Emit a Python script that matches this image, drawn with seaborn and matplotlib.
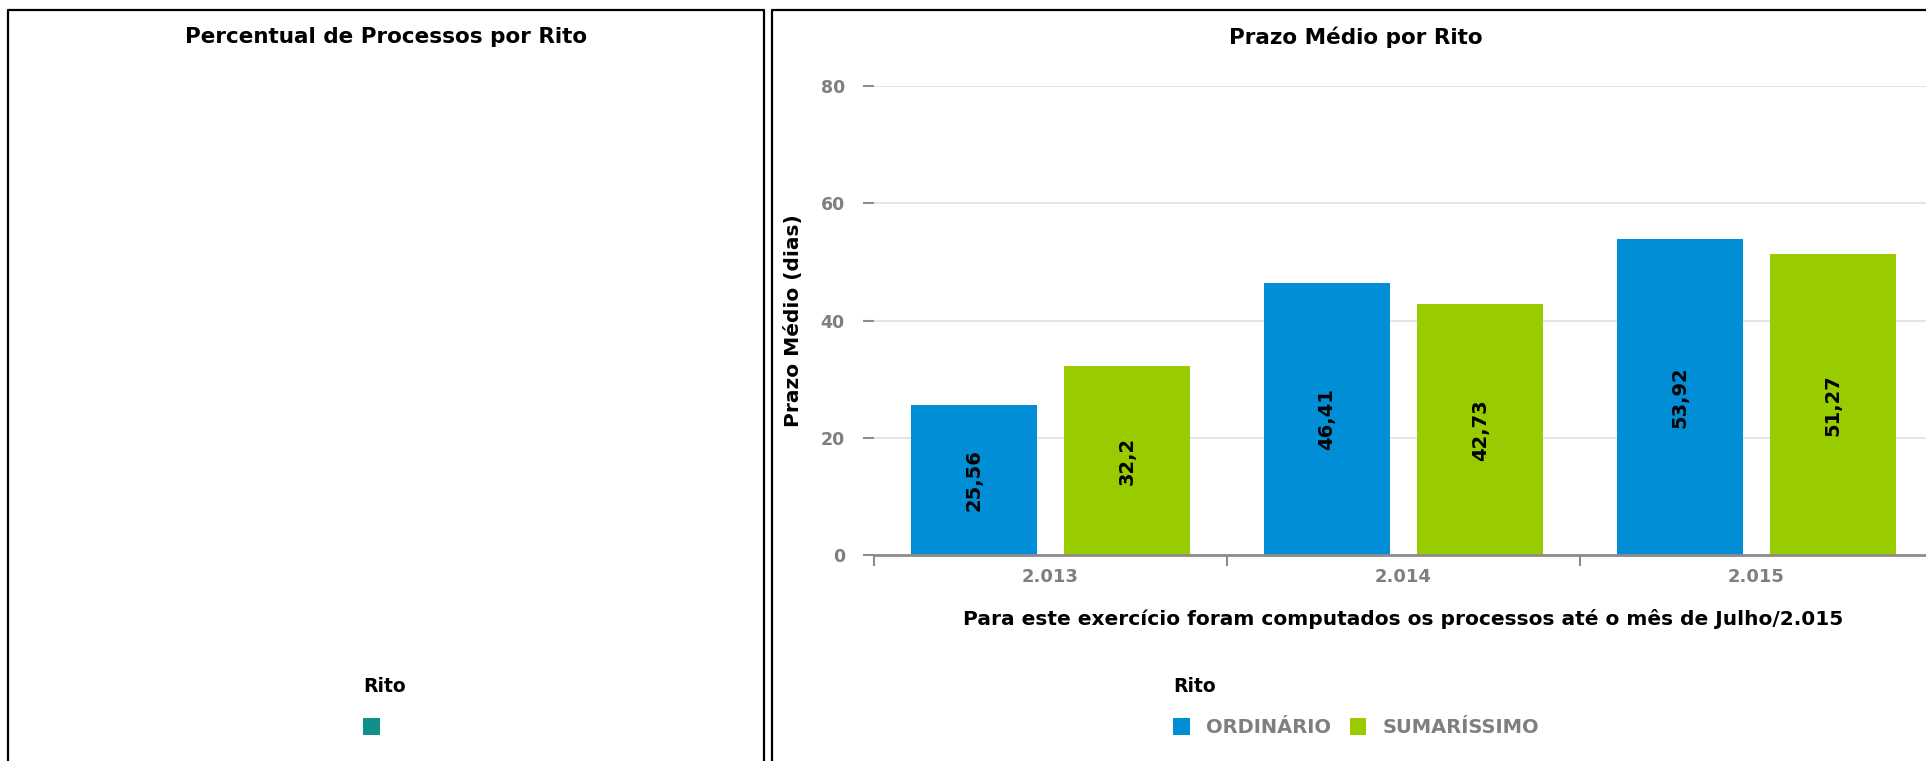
import matplotlib
matplotlib.use('Agg')
import matplotlib.pyplot as plt
import seaborn as sns
import pandas as pd
from matplotlib.lines import Line2D
from matplotlib.patches import Patch

# ---- data ----
anos = ['2.013', '2.014', '2.015']
ritos = ['ORDINÁRIO', 'SUMARÍSSIMO']
ordinario = [25.56, 46.41, 53.92]
sumarissimo = [32.2, 42.73, 51.27]
y_ticks = [0, 20, 40, 60, 80]
cores = ['#008ed6', '#99cc00']
cor_pizza = '#138f8b'

df = pd.DataFrame({
    'Ano': anos * 2,
    'Rito': [ritos[0]] * len(anos) + [ritos[1]] * len(anos),
    'Prazo': ordinario + sumarissimo,
})

sns.set_theme(style='white')
plt.rcParams['font.family'] = ['DejaVu Sans']
plt.rcParams['font.weight'] = 'bold'

W, H = 1926, 761
fig = plt.figure(figsize=(W / 100, H / 100), dpi=100)
fig.patch.set_facecolor('white')


def fx(px):
    return px / W


def fy(py):
    return 1 - py / H


GRAY = '#7f7f7f'
AXGRAY = '#8c8c8c'

ax = fig.add_axes([fx(874), fy(555), fx(1933) - fx(874), fy(86) - fy(555)])
sns.barplot(data=df, x='Ano', y='Prazo', hue='Rito', palette=cores,
            width=0.87, gap=0.18, saturation=1, edgecolor='none', linewidth=0,
            ax=ax, legend=False)

for cont in ax.containers:
    vals = [b.get_height() for b in cont]
    ax.bar_label(cont, labels=[f'{v:g}'.replace('.', ',') for v in vals],
                 label_type='center', rotation=90, fontsize=14,
                 fontweight='bold', color='black')

ax.set_xlim(-0.5, 2.5)
ax.set_ylim(0, 80)
ax.set_yticks(y_ticks)
ax.set_axisbelow(True)
ax.yaxis.grid(True, color='#e3e3e3', lw=1.3)
ax.xaxis.grid(False)
for s in ['left', 'top', 'right']:
    ax.spines[s].set_visible(False)
ax.spines['bottom'].set_color(AXGRAY)
ax.spines['bottom'].set_linewidth(2)

ax.tick_params(axis='y', left=True, length=8, width=1.5, color=AXGRAY,
               labelcolor=GRAY, labelsize=12.5, pad=13)
ax.tick_params(axis='x', which='major', bottom=True, length=0, pad=9,
               labelcolor=GRAY, labelsize=13)
ax.set_xticks([-0.5, 0.5, 1.5, 2.5], minor=True)
ax.tick_params(axis='x', which='minor', bottom=True, length=8, width=1.5,
               color=AXGRAY, direction='out')

ax.set_xlabel('Para este exercício foram computados os processos até o mês de Julho/2.015',
              fontsize=14.5, fontweight='bold', color='black', labelpad=17)
ax.set_ylabel('Prazo Médio (dias)', fontsize=14.5, fontweight='bold',
              color='black', labelpad=13)

# titles
fig.text(fx(386), fy(37), 'Percentual de Processos por Rito', ha='center',
         va='center', fontsize=15.5, fontweight='bold', color='black')
fig.text(fx(1356), fy(37), 'Prazo Médio por Rito', ha='center',
         va='center', fontsize=15.5, fontweight='bold', color='black')

# panel borders
lw = 1.6
fig.add_artist(Line2D([fx(8), fx(8), fx(764), fx(764)],
                      [fy(770), fy(10), fy(10), fy(770)],
                      transform=fig.transFigure, color='black', lw=lw))
fig.add_artist(Line2D([fx(772), fx(772), fx(1940)],
                      [fy(770), fy(10), fy(10)],
                      transform=fig.transFigure, color='black', lw=lw))

# legends
common = dict(loc='upper left', frameon=False, borderpad=0, borderaxespad=0,
              handlelength=0.85, handleheight=0.95, handletextpad=0.85,
              columnspacing=0.95, labelspacing=1.15, alignment='left',
              prop={'size': 14, 'weight': 'bold'},
              title_fontproperties={'size': 13.5, 'weight': 'bold'})

leg1 = fig.legend([Patch(facecolor=cor_pizza, edgecolor='none')], [''],
                  title='Rito', bbox_to_anchor=(fx(363), fy(677)), **common)
leg1.get_title().set_color('black')

leg2 = fig.legend([Patch(facecolor=c, edgecolor='none') for c in cores], ritos,
                  title='Rito', ncol=2, labelcolor=GRAY,
                  bbox_to_anchor=(fx(1173), fy(677)), **common)
leg2.get_title().set_color('black')

fig.savefig('out.png', dpi=100, facecolor='white')
